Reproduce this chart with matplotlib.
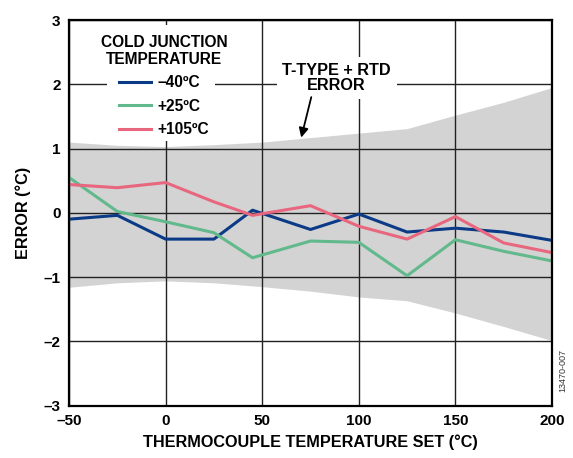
import numpy as np
import matplotlib
matplotlib.use('Agg')
import matplotlib.pyplot as plt
from matplotlib.patches import Rectangle

plt.rcParams['font.family'] = ['Liberation Sans', 'DejaVu Sans']
plt.rcParams['font.weight'] = 'bold'

# thermocouple set points
temp = [-50, -25, 0, 25, 45, 75, 100, 125, 150, 175, 200]
err_m40 = [-0.10, -0.04, -0.41, -0.41, 0.04, -0.26, -0.02, -0.30, -0.24, -0.30, -0.43]
err_p25 = [0.55, 0.02, -0.14, -0.31, -0.70, -0.44, -0.46, -0.98, -0.42, -0.60, -0.75]
err_p105 = [0.44, 0.39, 0.47, 0.17, -0.04, 0.11, -0.21, -0.41, -0.06, -0.47, -0.62]

# T-type + RTD error band
band_x = [-50, -25, 0, 25, 50, 75, 100, 125, 150, 175, 200]
band_hi = [1.10, 1.05, 1.03, 1.06, 1.10, 1.17, 1.24, 1.31, 1.52, 1.72, 1.95]
band_lo = [-1.16, -1.09, -1.06, -1.09, -1.15, -1.22, -1.31, -1.37, -1.56, -1.77, -1.99]

fig = plt.figure(figsize=(5.73, 4.58), dpi=100)
ax = fig.add_axes([0.1204, 0.1146, 0.843, 0.8417])

ax.fill_between(band_x, band_lo, band_hi, color='#d3d3d3', lw=0, zorder=1)
ax.grid(True, color='#222222', lw=1.0, zorder=2)
ax.set_axisbelow(False)

l1, = ax.plot(temp, err_m40, color='#0b3a86', lw=2.2, zorder=4, label='\u201340\u00baC')
l2, = ax.plot(temp, err_p25, color='#62b98c', lw=2.2, zorder=4, label='+25\u00baC')
l3, = ax.plot(temp, err_p105, color='#e8677f', lw=2.2, zorder=4, label='+105\u00baC')

ax.set_xlim(-50, 200)
ax.set_ylim(-3, 3)
ax.set_xticks([-50, 0, 50, 100, 150, 200])
ax.set_xticklabels(['\u201350', '0', '50', '100', '150', '200'])
ax.set_yticks([-3, -2, -1, 0, 1, 2, 3])
ax.set_yticklabels(['\u20133', '\u20132', '\u20131', '0', '1', '2', '3'])
ax.tick_params(length=0, labelsize=11, pad=6)
for s in ax.spines.values():
    s.set_linewidth(1.6)
    s.set_color('black')
    s.set_zorder(6)

ax.set_xlabel('THERMOCOUPLE TEMPERATURE SET (\u00b0C)', fontsize=11.7, fontweight='bold', labelpad=5)
ax.set_ylabel('ERROR (\u00b0C)', fontsize=11.7, fontweight='bold', labelpad=9)

# white patch behind legend
ax.add_patch(Rectangle((0.0787, 0.686), 0.223, 0.301, transform=ax.transAxes,
                       fc='white', ec='none', zorder=3))

leg = ax.legend(handles=[l1, l2, l3], loc='upper center', bbox_to_anchor=(0.197, 0.99),
                title='COLD JUNCTION\nTEMPERATURE', frameon=False, fontsize=11.2,
                title_fontproperties={'weight': 'bold', 'size': 11.2},
                handlelength=2.05, handletextpad=0.45, labelspacing=0.55,
                borderpad=0.2, alignment='center')
leg.set_zorder(5)
leg.get_title().set_multialignment('center')
leg.get_title().set_linespacing(1.15)
for t in leg.get_texts():
    t.set_fontweight('bold')

ax.text(88.5, 2.10, 'T-TYPE + RTD\nERROR', ha='center', va='center', fontsize=11.7,
        fontweight='bold', linespacing=1.0, zorder=5,
        bbox=dict(boxstyle='square,pad=0.35', fc='white', ec='none'))
ax.annotate('', xy=(70.2, 1.17), xytext=(75.4, 1.80), zorder=5,
            arrowprops=dict(arrowstyle='-|>', color='black', lw=1.3,
                            mutation_scale=14, shrinkA=0, shrinkB=0))

fig.text(0.983, 0.19, '13470-007', rotation=90, fontsize=6.5, fontweight='normal',
         ha='center', va='center', color='#333333')

fig.savefig('out.png', dpi=100)
